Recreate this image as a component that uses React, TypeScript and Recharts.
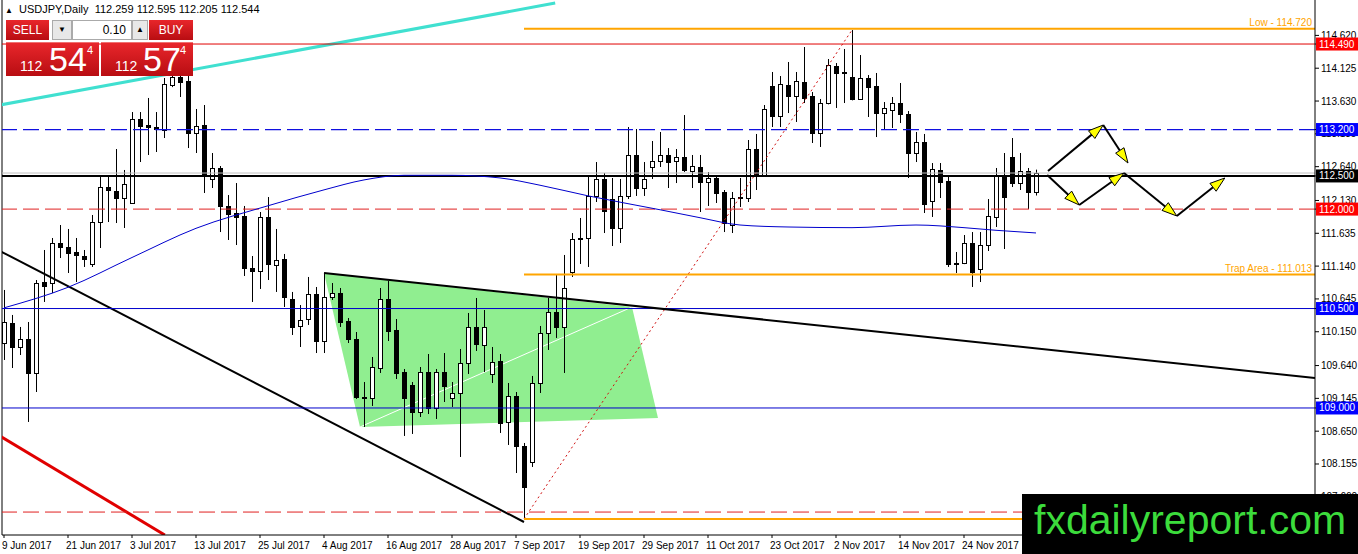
import React from "react";
import { ComposedChart, Bar, Line, XAxis, YAxis, ReferenceLine, ReferenceArea } from "recharts";

// daily USDJPY candles, 9 Jun 2017 .. 7 Dec 2017
const opens = [
  109.98, 110.282, 109.92, 110.041, 109.528, 110.9, 110.885, 111.489, 111.428, 111.353,
  111.292, 111.172, 111.805, 112.333, 112.273, 112.167, 112.092, 113.359, 113.268, 113.238,
  113.193, 113.872, 114.0, 113.93, 113.148, 113.268, 112.454, 112.62, 112.047, 111.941,
  111.896, 111.111, 111.066, 111.881, 111.157, 111.247, 110.644, 110.237, 110.342, 110.719,
  110.01, 110.674, 110.734, 110.312, 110.041, 109.16, 109.151, 109.603, 110.644, 110.176,
  109.543, 109.347, 108.939, 109.543, 109.0, 109.543, 109.151, 109.226, 109.679, 110.222,
  109.95, 109.513, 109.709, 108.789, 109.181, 108.427, 108.185, 109.377, 110.131, 110.448,
  110.222, 111.051, 111.564, 111.564, 112.198, 112.454, 112.152, 111.715, 112.198, 112.816,
  112.318, 112.635, 112.725, 112.816, 112.725, 112.786, 112.574, 112.635, 112.408, 112.469,
  112.258, 111.76, 112.182, 112.167, 112.906, 112.514, 113.857, 113.404, 113.872, 113.706,
  113.917, 113.706, 113.148, 113.6, 114.158, 114.07, 113.992, 113.661, 113.977, 113.857,
  113.449, 113.495, 113.6, 113.434, 112.846, 113.012, 112.122, 112.59, 112.423, 111.19,
  111.187, 111.489, 111.096, 111.458, 111.881, 112.484, 112.786, 112.393, 112.574, 112.259,
];
const highs = [
  110.78, 110.403, 110.222, 110.297, 110.93, 111.383, 111.564, 111.76, 111.7, 111.564,
  111.383, 111.911, 112.484, 112.484, 112.906, 112.59, 113.464, 113.464, 113.676, 113.464,
  113.977, 114.19, 114.49, 114.05, 113.51, 113.57, 112.846, 112.65, 112.212, 112.393,
  112.047, 111.292, 111.956, 112.182, 111.7, 111.323, 110.75, 110.553, 110.976, 110.825,
  111.021, 110.885, 110.81, 110.357, 110.146, 109.392, 109.769, 110.81, 110.915, 110.342,
  109.588, 109.392, 109.618, 109.814, 109.588, 109.829, 109.392, 109.89, 110.433, 110.659,
  110.478, 109.92, 109.814, 109.377, 109.241, 108.472, 109.483, 110.237, 110.659, 111.006,
  111.308, 111.639, 111.866, 112.484, 112.71, 112.544, 112.469, 112.454, 113.238, 113.208,
  112.71, 113.027, 113.163, 112.921, 112.906, 113.419, 112.816, 112.816, 112.559, 112.499,
  112.288, 112.258, 112.469, 113.042, 113.133, 113.57, 114.068, 114.007, 114.219, 114.068,
  114.445, 113.766, 113.661, 114.264, 114.203, 114.415, 114.701, 114.324, 114.022, 114.053,
  113.615, 113.691, 113.902, 113.479, 113.163, 113.133, 112.695, 112.695, 112.484, 111.353,
  111.609, 111.654, 111.654, 112.152, 112.62, 112.846, 113.072, 112.846, 112.62, 112.595,
];
const lows = [
  109.724, 109.603, 109.799, 108.789, 109.241, 110.599, 110.734, 111.262, 111.036, 110.9,
  111.127, 111.127, 111.413, 111.805, 111.79, 111.715, 112.077, 112.71, 112.816, 112.861,
  113.072, 113.84, 113.691, 112.921, 112.846, 112.243, 112.318, 111.654, 111.534, 111.458,
  110.991, 110.599, 110.795, 110.93, 110.75, 110.523, 110.101, 109.92, 110.252, 109.829,
  109.829, 110.629, 110.222, 109.98, 109.136, 108.713, 109.03, 109.528, 110.01, 109.437,
  108.578, 108.608, 108.864, 108.909, 108.834, 109.09, 109.015, 108.261, 109.513, 109.86,
  109.543, 109.377, 108.623, 108.442, 108.019, 107.326, 108.11, 109.226, 109.875, 110.056,
  109.528, 110.976, 111.172, 111.127, 112.107, 111.639, 111.443, 111.489, 112.152, 112.198,
  112.198, 112.454, 112.635, 112.318, 112.393, 112.56, 112.318, 111.956, 112.047, 112.092,
  111.654, 111.639, 112.032, 112.107, 112.288, 112.5, 113.238, 113.238, 113.449, 113.314,
  113.6, 112.997, 112.937, 113.58, 113.525, 113.6, 113.64, 113.65, 113.389, 113.087,
  113.208, 113.223, 113.298, 112.469, 112.71, 111.941, 111.881, 112.167, 111.127, 111.036,
  111.17, 110.825, 110.9, 111.368, 111.73, 111.398, 112.333, 112.288, 112.001, 112.205,
];
const closes = [
  110.297, 109.92, 110.041, 109.528, 110.885, 110.84, 111.489, 111.428, 111.338, 111.308,
  111.247, 111.805, 112.333, 112.288, 112.167, 112.378, 113.359, 113.253, 113.238, 113.208,
  113.887, 113.992, 113.93, 113.148, 113.253, 112.514, 112.62, 112.047, 111.926, 111.881,
  111.111, 111.066, 111.881, 111.172, 111.232, 110.674, 110.222, 110.327, 110.719, 110.01,
  110.674, 110.734, 110.297, 110.041, 109.166, 109.17, 109.618, 110.644, 110.161, 109.528,
  109.151, 108.939, 109.543, 109.0, 109.543, 109.332, 109.226, 109.679, 110.222, 109.965,
  110.222, 109.694, 108.774, 109.181, 108.427, 107.808, 109.377, 110.131, 110.448, 110.222,
  110.81, 111.549, 111.549, 112.198, 112.454, 111.971, 111.715, 112.198, 112.816, 112.318,
  112.454, 112.725, 112.816, 112.71, 112.786, 112.59, 112.65, 112.408, 112.469, 112.243,
  111.79, 112.167, 112.167, 112.906, 112.514, 113.51, 113.404, 113.887, 113.706, 113.932,
  113.676, 113.148, 113.6, 114.173, 114.053, 114.06, 113.661, 113.977, 113.842, 113.449,
  113.525, 113.6, 113.434, 112.846, 113.012, 112.077, 112.605, 112.408, 111.172, 111.18,
  111.489, 111.051, 111.458, 111.896, 112.499, 112.182, 112.393, 112.574, 112.258, 112.544,
];

// moving average: bar index and value
const maIndex = [0, 8, 16, 24, 33, 40, 45, 50, 56, 62, 67, 73, 82, 87, 92, 98, 106, 114, 120, 124, 129];
const maValue = [
  110.51, 110.82, 111.27, 111.71, 112.05, 112.29, 112.44, 112.51, 112.51, 112.47, 112.36,
  112.2, 111.99, 111.87, 111.76, 111.73, 111.72, 111.76, 111.72, 111.68, 111.64,
];

const dateTicks = [0, 8, 16, 24, 32, 40, 48, 56, 64, 72, 80, 88, 96, 104, 112, 120];
const dateLabels = [
  "9 Jun 2017", "21 Jun 2017", "3 Jul 2017", "13 Jul 2017", "25 Jul 2017", "4 Aug 2017",
  "16 Aug 2017", "28 Aug 2017", "7 Sep 2017", "19 Sep 2017", "29 Sep 2017", "11 Oct 2017",
  "23 Oct 2017", "2 Nov 2017", "14 Nov 2017", "24 Nov 2017",
];
const priceTicks = [
  114.62, 114.125, 113.63, 113.135, 112.64, 112.13, 111.635, 111.14, 110.645, 110.15,
  109.64, 109.145, 108.65, 108.155, 107.66,
];

// horizontal levels drawn across the whole chart
const keyLevels = [114.49, 113.2, 112.5, 112.0, 110.5, 109.0, 107.43];
const taggedLevels = [114.49, 113.2, 112.5, 112.0, 110.5, 109.0];
const bidPrice = 112.544;
// levels anchored at the September low
const fibStart = 65;
const fibLevels = [114.72, 111.013, 107.326];

// drawn objects as [bar index, price]
const cyanTrend = [[-0.5, 113.57], [68.9, 115.108]];
const fallingTrend = [[-0.5, 111.368], [65, 107.28]];
const redTrend = [[-0.5, 108.578], [20.1, 107.084]];
const wedgeTop = [[40, 111.036], [163.875, 109.452]];
const rallyLine = [[65, 107.326], [106, 114.701]];
const greenZone = [[40, 111.036], [78.5, 110.523], [81.75, 108.849], [44.5, 108.713]];
const forecastUpper = [[130.5, 112.574], [137.4, 113.268], [140.5, 112.695]];
const forecastLower = [[130.4, 112.514], [134.4, 112.062], [140, 112.544], [146.6, 111.896], [152.6, 112.469]];

const X_DOMAIN = [-0.25, 163.875];
const Y_DOMAIN = [107.084, 115.154];
const FONT = "'Liberation Sans', Arial, sans-serif";
const TAG_COLORS = ["#FF0000", "#0000FF", "#000000", "#FF0000", "#0000FF", "#0000FF"];

const rows = opens.map((o, i) => {
  const k = maIndex.indexOf(i);
  return {
    i,
    o,
    h: highs[i],
    l: lows[i],
    c: closes[i],
    range: [lows[i], highs[i]],
    ma: k >= 0 ? maValue[k] : null,
  };
});

const Candle = (props: any) => {
  const { x, y, width, height, payload } = props;
  if (x == null || !payload) return null;
  const top = Math.min(y, y + height);
  const bot = Math.max(y, y + height);
  const span = payload.h - payload.l;
  const py = (p: number) => (span > 0 ? top + ((payload.h - p) / span) * (bot - top) : top);
  const cx = Math.round(x + width / 2);
  const yo = py(payload.o);
  const yc = py(payload.c);
  const up = payload.c >= payload.o;
  const bTop = Math.round(Math.min(yo, yc)) + 0.5;
  const bH = Math.max(Math.round(Math.abs(yc - yo)), 1);
  return (
    <g>
      <line x1={cx + 0.5} x2={cx + 0.5} y1={top} y2={bot} stroke="#000" strokeWidth={1} />
      <rect x={cx - 1.5} y={bTop} width={4} height={bH} fill={up ? "#fff" : "#000"} stroke="#000" strokeWidth={1} />
    </g>
  );
};

// right scale: ordinary price ticks first, then the coloured level tags drawn over them
const PriceTick = (props: any) => {
  const { x, y, payload } = props;
  const v = payload.value;
  const k = taggedLevels.indexOf(v);
  if (k >= 0) {
    return (
      <g>
        <rect x={x - 5} y={y - 6.5} width={42} height={13} fill={TAG_COLORS[k]} />
        <text x={x - 2} y={y + 3.5} fill="#fff" fontSize={10} fontFamily={FONT}>
          {v.toFixed(3)}
        </text>
      </g>
    );
  }
  return (
    <text x={x} y={y + 3.5} fill="#000" fontSize={10} fontFamily={FONT}>
      {v.toFixed(3)}
    </text>
  );
};

const endText = (text: string, dy: number) => (p: any) => {
  const vb = p.viewBox;
  if (!vb) return null;
  return (
    <text x={vb.x + vb.width - 3} y={vb.y + dy} textAnchor="end" fill="#FFA500" fontSize={10} fontFamily={FONT}>
      {text}
    </text>
  );
};

const ArrowLine = (props: any) => {
  const { x1, y1, x2, y2 } = props;
  const dx = x2 - x1;
  const dy = y2 - y1;
  const len = Math.hypot(dx, dy) || 1;
  const ux = dx / len;
  const uy = dy / len;
  const bx = x2 - ux * 15;
  const by = y2 - uy * 15;
  const pts = `${x2},${y2} ${bx - uy * 5},${by + ux * 5} ${bx + uy * 5},${by - ux * 5}`;
  return (
    <g>
      <line x1={x1} y1={y1} x2={bx} y2={by} stroke="#000" strokeWidth={2} />
      <polygon points={pts} fill="#FFFF00" stroke="#000" strokeWidth={1} />
    </g>
  );
};

const ZoneShape = (props: any) => {
  const { x, y, width, height } = props;
  const xs = greenZone.map((v) => v[0]);
  const ps = greenZone.map((v) => v[1]);
  const x0 = Math.min(...xs);
  const x1 = Math.max(...xs);
  const p0 = Math.min(...ps);
  const p1 = Math.max(...ps);
  const pt = (v: number[]) => [x + ((v[0] - x0) / (x1 - x0)) * width, y + ((p1 - v[1]) / (p1 - p0)) * height];
  const pts = greenZone.map(pt);
  return (
    <g>
      <polygon points={pts.map((q) => q.join(",")).join(" ")} fill="#90EE90" stroke="none" />
      <line x1={pts[3][0]} y1={pts[3][1]} x2={pts[1][0]} y2={pts[1][1]} stroke="#fff" strokeWidth={1} />
    </g>
  );
};

const DateTick = (props: any) => {
  const { x, y, payload } = props;
  const k = dateTicks.indexOf(payload.value);
  return (
    <text x={x - 2} y={y + 9} textAnchor="start" fill="#000" fontSize={10} fontFamily={FONT}>
      {k >= 0 ? dateLabels[k] : ""}
    </text>
  );
};

const seg = (a: number[], b: number[]) => [
  { x: a[0], y: a[1] },
  { x: b[0], y: b[1] },
];

const redBtn = {
  position: "absolute" as const,
  background: "linear-gradient(#e8262b, #b80d12)",
  color: "#fff",
  fontFamily: FONT,
  boxSizing: "border-box" as const,
};

export default function App() {
  return (
    <div style={{ position: "absolute", left: 0, top: 0, width: 1358, height: 554, background: "#fff", overflow: "hidden" }}>
      <ComposedChart width={1358} height={554} data={rows} margin={{ top: 0, right: 0, bottom: 0, left: 2 }}>
        <XAxis
          dataKey="i"
          type="number"
          domain={X_DOMAIN}
          allowDataOverflow
          ticks={dateTicks}
          tick={<DateTick />}
          tickSize={3}
          height={19}
          stroke="#000"
          interval={0}
        />
        <YAxis
          orientation="right"
          type="number"
          domain={Y_DOMAIN}
          allowDataOverflow
          ticks={[...priceTicks, ...taggedLevels]}
          width={43}
          tickSize={4}
          stroke="#000"
          interval={0}
          tick={<PriceTick />}
        />
        <ReferenceArea
          x1={Math.min(...greenZone.map((v) => v[0]))}
          x2={Math.max(...greenZone.map((v) => v[0]))}
          y1={Math.min(...greenZone.map((v) => v[1]))}
          y2={Math.max(...greenZone.map((v) => v[1]))}
          ifOverflow="visible"
          shape={<ZoneShape />}
        />
        <ReferenceLine x={X_DOMAIN[0]} stroke="#000" ifOverflow="visible" />
        <ReferenceLine segment={seg(cyanTrend[0], cyanTrend[1])} stroke="#40E0D0" strokeWidth={3} ifOverflow="hidden" />
        <ReferenceLine segment={seg(fallingTrend[0], fallingTrend[1])} stroke="#000" strokeWidth={2} ifOverflow="hidden" />
        <ReferenceLine segment={seg(redTrend[0], redTrend[1])} stroke="#E00000" strokeWidth={3} ifOverflow="hidden" />
        <ReferenceLine segment={seg(rallyLine[0], rallyLine[1])} stroke="#D01010" strokeWidth={1} strokeDasharray="2 3" ifOverflow="hidden" />
        <ReferenceLine
          segment={seg([fibStart, fibLevels[0]], [X_DOMAIN[1], fibLevels[0]])}
          stroke="#FFA500"
          strokeWidth={2}
          ifOverflow="hidden"
          label={endText("Low - " + fibLevels[0].toFixed(3), -3)}
        />
        <ReferenceLine
          segment={seg([fibStart, fibLevels[1]], [X_DOMAIN[1], fibLevels[1]])}
          stroke="#FFA500"
          strokeWidth={2}
          ifOverflow="hidden"
          label={endText("Trap Area - " + fibLevels[1].toFixed(3), -2.5)}
        />
        <ReferenceLine segment={seg([fibStart, fibLevels[2]], [X_DOMAIN[1], fibLevels[2]])} stroke="#FFA500" strokeWidth={2} ifOverflow="hidden" />
        <ReferenceLine y={keyLevels[0]} stroke="#E00000" ifOverflow="visible" />
        <ReferenceLine y={keyLevels[1]} stroke="#1010E0" strokeWidth={1.3} strokeDasharray="16 6" ifOverflow="visible" />
        <ReferenceLine y={bidPrice} stroke="#C0C0C0" ifOverflow="visible" />
        <ReferenceLine y={keyLevels[2]} stroke="#000" strokeWidth={2} ifOverflow="visible" />
        <ReferenceLine y={keyLevels[3]} stroke="#E02020" strokeDasharray="16 6" ifOverflow="visible" />
        <ReferenceLine y={keyLevels[4]} stroke="#0000CD" ifOverflow="visible" />
        <ReferenceLine y={keyLevels[5]} stroke="#0000CD" ifOverflow="visible" />
        <ReferenceLine y={keyLevels[6]} stroke="#E02020" strokeDasharray="16 6" ifOverflow="visible" />
        <Line
          dataKey="ma"
          type="monotone"
          stroke="#0000CD"
          strokeWidth={1}
          dot={false}
          connectNulls
          isAnimationActive={false}
        />
        <Bar dataKey="range" barSize={5} shape={<Candle />} isAnimationActive={false} />
        <ReferenceLine segment={seg(wedgeTop[0], wedgeTop[1])} stroke="#000" strokeWidth={2} ifOverflow="hidden" />
        {forecastUpper.slice(1).map((p, k) => (
          <ReferenceLine key={"u" + k} segment={seg(forecastUpper[k], p)} ifOverflow="hidden" shape={<ArrowLine />} />
        ))}
        {forecastLower.slice(1).map((p, k) => (
          <ReferenceLine key={"l" + k} segment={seg(forecastLower[k], p)} ifOverflow="hidden" shape={<ArrowLine />} />
        ))}
      </ComposedChart>

      <div style={{ position: "absolute", left: 5, top: 3, fontSize: 11, fontFamily: FONT, color: "#000", whiteSpace: "pre" }}>
        <span style={{ fontSize: 8 }}>▲</span>
        {"  USDJPY,Daily  112.259 112.595 112.205 112.544"}
      </div>

      <div style={{ ...redBtn, left: 6, top: 20, width: 43, height: 20, fontSize: 12, lineHeight: "20px", textAlign: "center" }}>SELL</div>
      <div style={{ position: "absolute", left: 52, top: 20, width: 20, height: 20, background: "#e8e8e8", border: "1px solid #aaa", boxSizing: "border-box", fontSize: 8, textAlign: "center", lineHeight: "18px" }}>▼</div>
      <div style={{ position: "absolute", left: 72, top: 20, width: 60, height: 20, background: "#fff", border: "1px solid #aaa", boxSizing: "border-box", fontSize: 12, fontFamily: FONT, textAlign: "right", paddingRight: 5, lineHeight: "18px" }}>0.10</div>
      <div style={{ position: "absolute", left: 132, top: 20, width: 16, height: 20, background: "#e8e8e8", border: "1px solid #aaa", boxSizing: "border-box", fontSize: 8, textAlign: "center", lineHeight: "18px" }}>▲</div>
      <div style={{ ...redBtn, left: 149, top: 20, width: 44, height: 20, fontSize: 12, lineHeight: "20px", textAlign: "center" }}>BUY</div>
      <div style={{ ...redBtn, left: 6, top: 42, width: 93, height: 34, borderTop: "1px solid #f07070" }}>
        <span style={{ position: "absolute", left: 14, top: 15, fontSize: 14 }}>112</span>
        <span style={{ position: "absolute", left: 43, top: -3, fontSize: 34 }}>54</span>
        <span style={{ position: "absolute", left: 81, top: 1, fontSize: 11 }}>4</span>
      </div>
      <div style={{ ...redBtn, left: 101, top: 42, width: 92, height: 34, borderTop: "1px solid #f07070" }}>
        <span style={{ position: "absolute", left: 14, top: 15, fontSize: 14 }}>112</span>
        <span style={{ position: "absolute", left: 42, top: -3, fontSize: 34 }}>57</span>
        <span style={{ position: "absolute", left: 79, top: 1, fontSize: 11 }}>4</span>
      </div>

      <div style={{ position: "absolute", left: 1022, top: 494, width: 336, height: 60, background: "#000" }}>
        <span style={{ position: "absolute", left: 12, top: 3, fontSize: 41, fontFamily: FONT, color: "#3CDC3C" }}>fxdailyreport.com</span>
      </div>
    </div>
  );
}
